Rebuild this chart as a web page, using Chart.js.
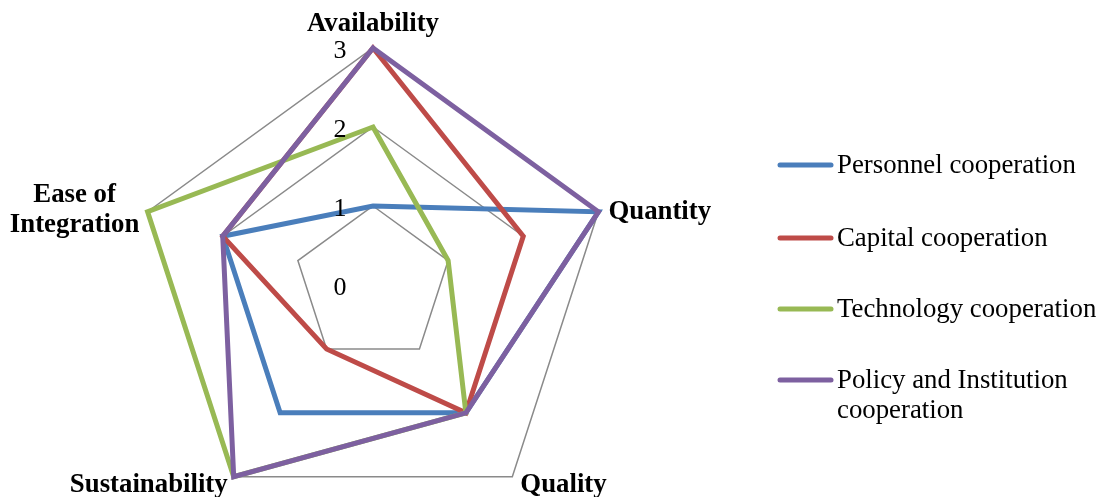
<!DOCTYPE html>
<html>
<head>
<meta charset="utf-8">
<script src="https://cdn.jsdelivr.net/npm/chart.js@4/dist/chart.umd.min.js"></script>
<style>
  html, body { margin: 0; padding: 0; background: #fff; overflow: hidden; }
  #wrap { position: relative; width: 1101px; height: 497px; overflow: hidden; }
  canvas { display: block; }
</style>
</head>
<body>
<div id="wrap"><canvas id="c" width="1101" height="560"></canvas></div>
<script>
// Criteria around the radar, clockwise from the top
const criteria = ['Availability', 'Quantity', 'Quality', 'Sustainability', ['Ease of', 'Integration']];
const tickLabels = ['0', '1', '2', '3'];

// Scores per cooperation type
const personnel  = [1, 3, 2, 2, 2];
const capital    = [3, 2, 2, 1, 2];
const technology = [2, 1, 2, 3, 3];
const policy     = [3, 3, 2, 3, 2];

const seriesNames = ['Personnel cooperation', 'Capital cooperation', 'Technology cooperation', ['Policy and Institution', 'cooperation']];
const seriesColors = ['#4A7EBB', '#BE4B48', '#98B954', '#7D60A0'];

const serif = "'Liberation Serif', 'Times New Roman', serif";

// Axis titles, tick numbers and the legend are painted after the chart
const annotate = {
  id: 'annotate',
  afterDraw(chart) {
    const ctx = chart.ctx;
    const r = chart.scales.r;
    ctx.save();
    ctx.fillStyle = '#000';

    // tick numbers, left of the top spoke
    ctx.font = '26px ' + serif;
    ctx.textAlign = 'center';
    ctx.textBaseline = 'middle';
    tickLabels.forEach((t) => {
      const p = r.getPointPositionForValue(0, Number(t));
      ctx.fillText(t, p.x - 33, p.y + 3);
    });

    // criterion titles
    ctx.font = 'bold 26.8px ' + serif;
    ctx.textBaseline = 'alphabetic';
    const place = [
      { dx: 0,   dy: -17, align: 'center' },
      { dx: 10,  dy: 7,   align: 'left' },
      { dx: 8,   dy: 15,  align: 'left' },
      { dx: -6,  dy: 15,  align: 'right' },
      { dx: -73, dy: -10, align: 'center' }
    ];
    criteria.forEach((lab, i) => {
      const p = r.getPointPosition(i, r.drawingArea);
      const o = place[i];
      ctx.textAlign = o.align;
      const lines = Array.isArray(lab) ? lab : [lab];
      lines.forEach((ln, k) => ctx.fillText(ln, p.x + o.dx, p.y + o.dy + k * 30));
    });

    // legend
    const rows = [165, 238, 309, 380];
    ctx.font = '26.8px ' + serif;
    ctx.textAlign = 'left';
    chart.data.datasets.forEach((ds, i) => {
      const y = rows[i];
      ctx.strokeStyle = ds.borderColor;
      ctx.lineWidth = 5;
      ctx.lineCap = 'round';
      ctx.beginPath();
      ctx.moveTo(780, y);
      ctx.lineTo(831, y);
      ctx.stroke();
      const lines = Array.isArray(seriesNames[i]) ? seriesNames[i] : [seriesNames[i]];
      lines.forEach((ln, k) => ctx.fillText(ln, 837, y + 8 + k * 30));
    });
    ctx.restore();
  }
};

const makeSet = (i, values, order) => ({
  label: Array.isArray(seriesNames[i]) ? seriesNames[i].join(' ') : seriesNames[i],
  data: values,
  borderColor: seriesColors[i],
  backgroundColor: seriesColors[i],
  borderWidth: 5,
  pointRadius: 0,
  pointHoverRadius: 0,
  fill: false,
  tension: 0,
  order: order
});

new Chart(document.getElementById('c'), {
  type: 'radar',
  data: {
    labels: criteria,
    datasets: [
      makeSet(0, personnel, 4),
      makeSet(1, capital, 3),
      makeSet(2, technology, 2),
      makeSet(3, policy, 1)
    ]
  },
  options: {
    responsive: false,
    animation: false,
    events: [],
    layout: { padding: { left: 136, right: 491, top: 48, bottom: 38 } },
    plugins: { legend: { display: false }, tooltip: { enabled: false } },
    scales: {
      r: {
        min: 0,
        max: 3,
        ticks: { stepSize: 1, display: false },
        grid: { color: '#8a8a8a', lineWidth: 1.5, circular: false },
        angleLines: { display: false },
        pointLabels: { display: false }
      }
    }
  },
  plugins: [annotate]
});
</script>
</body>
</html>
